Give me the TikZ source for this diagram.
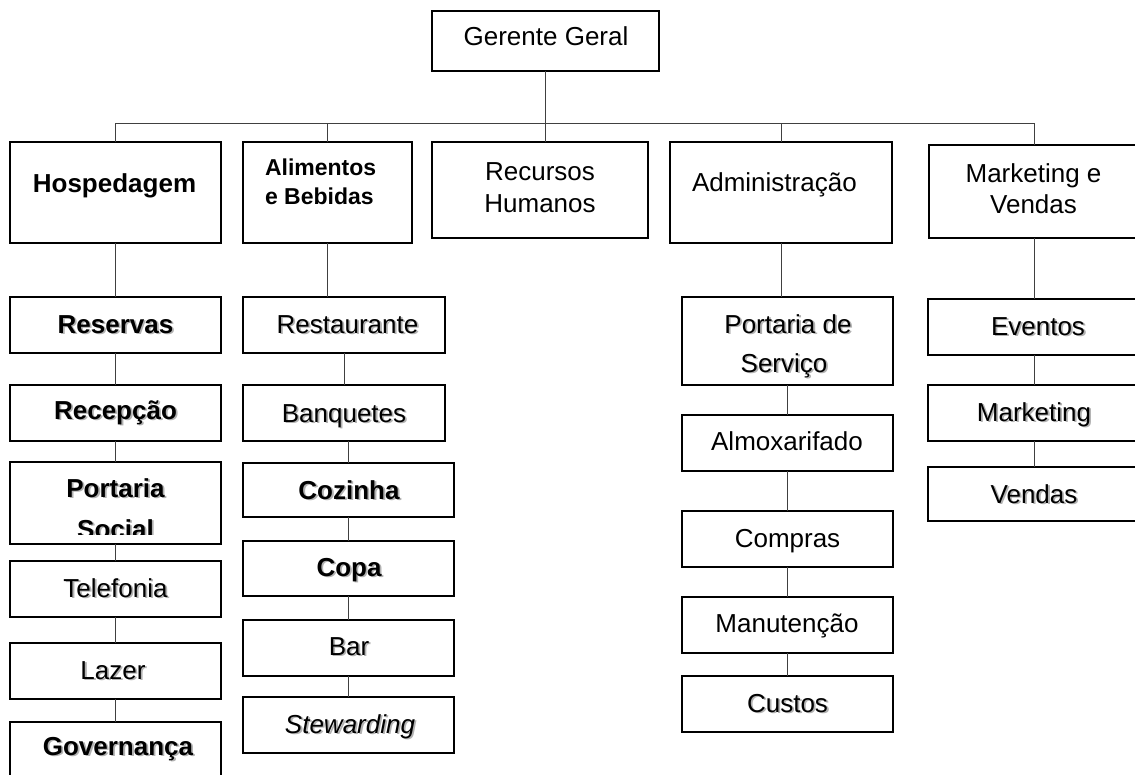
\documentclass[tikz,border=0pt]{standalone}
\usepackage{fontspec}
\setmainfont{Liberation Sans}
\newcommand\shd[1]{\leavevmode\rlap{\kern1.8pt\raisebox{-1.8pt}{\textcolor{black!30}{#1}}}#1}
\tikzset{
  box/.style={draw=black, line width=2pt, fill=white, inner sep=0pt, outer sep=0pt},
  lnk/.style={draw=black!75, line width=1pt},
  txt/.style={anchor=base, inner sep=0pt, outer sep=0pt, font=\fontsize{26}{30}\selectfont},
  btxt/.style={anchor=base, inner sep=0pt, outer sep=0pt, font=\fontsize{26}{30}\selectfont\bfseries},
  stxt/.style={anchor=base west, inner sep=0pt, outer sep=0pt, font=\fontsize{23}{27}\selectfont\bfseries},
  itxt/.style={anchor=base, inner sep=0pt, outer sep=0pt, font=\fontsize{26}{30}\selectfont\itshape},
}
\begin{document}
\begin{tikzpicture}[x=1pt,y=-1pt]
\useasboundingbox (0,0) rectangle (1135,774);
\clip (0,0) rectangle (1135,774);

% ---- boxes ----
\node[box, minimum width=227pt, minimum height=60pt] (gg) at (545.5,41) {};

\node[box, minimum width=211pt, minimum height=101pt] (hosp) at (115.5,192.5) {};
\node[box, minimum width=169pt, minimum height=101pt] (alim) at (327.5,192.5) {};
\node[box, minimum width=216pt, minimum height=96pt] (rh) at (540,190) {};
\node[box, minimum width=222pt, minimum height=101pt] (adm) at (781,192.5) {};
\node[box, minimum width=210pt, minimum height=93pt] (mkv) at (1034,191.5) {};

% Hospedagem column
\node[box, minimum width=211pt, minimum height=56pt] (res) at (115.5,325) {};
\node[box, minimum width=211pt, minimum height=56pt] (rec) at (115.5,413) {};
\node[box, minimum width=211pt, minimum height=82pt] (port) at (115.5,503) {};
\node[box, minimum width=211pt, minimum height=56pt] (tel) at (115.5,589) {};
\node[box, minimum width=211pt, minimum height=56pt] (laz) at (115.5,671) {};
\node[box, minimum width=211pt, minimum height=78pt] (gov) at (115.5,761) {};

% Alimentos column
\node[box, minimum width=202pt, minimum height=56pt] (rest) at (344,325) {};
\node[box, minimum width=202pt, minimum height=56pt] (banq) at (344,413) {};
\node[box, minimum width=211pt, minimum height=54pt] (coz) at (348.5,490) {};
\node[box, minimum width=211pt, minimum height=55pt] (copa) at (348.5,568.5) {};
\node[box, minimum width=211pt, minimum height=56pt] (bar) at (348.5,648) {};
\node[box, minimum width=211pt, minimum height=56pt] (stew) at (348.5,725) {};

% Administracao column
\node[box, minimum width=211pt, minimum height=88pt] (psv) at (787.5,341) {};
\node[box, minimum width=211pt, minimum height=56pt] (alm) at (787.5,443) {};
\node[box, minimum width=211pt, minimum height=56pt] (comp) at (787.5,539) {};
\node[box, minimum width=211pt, minimum height=56pt] (manu) at (787.5,625) {};
\node[box, minimum width=211pt, minimum height=56pt] (cust) at (787.5,704) {};

% Marketing column
\node[box, minimum width=212pt, minimum height=56pt] (ev) at (1034,327) {};
\node[box, minimum width=212pt, minimum height=56pt] (mk) at (1034,413) {};
\node[box, minimum width=212pt, minimum height=54pt] (ve) at (1034,494) {};

% ---- connectors ----
\coordinate (bus) at (546,123);
\draw[lnk] (gg.south) -- (gg.south |- rh.north);
\draw[lnk] (hosp.north) -- (hosp.north |- bus) -- (mkv.north |- bus) -- (mkv.north);
\draw[lnk] (alim.north) -- (alim.north |- bus);
\draw[lnk] (adm.north) -- (adm.north |- bus);

\draw[lnk] (hosp.south) -- (res.north);
\draw[lnk] (res.south) -- (rec.north);
\draw[lnk] (rec.south) -- (port.north);
\draw[lnk] (port.south) -- (tel.north);
\draw[lnk] (tel.south) -- (laz.north);
\draw[lnk] (laz.south) -- (gov.north);

\draw[lnk] (alim.south) -- (alim.south |- rest.north);
\draw[lnk] (rest.south) -- (banq.north);
\draw[lnk] (coz.north |- banq.south) -- (coz.north);
\draw[lnk] (coz.south) -- (copa.north);
\draw[lnk] (copa.south) -- (bar.north);
\draw[lnk] (bar.south) -- (stew.north);

\draw[lnk] (adm.south) -- (adm.south |- psv.north);
\draw[lnk] (psv.south) -- (alm.north);
\draw[lnk] (alm.south) -- (comp.north);
\draw[lnk] (comp.south) -- (manu.north);
\draw[lnk] (manu.south) -- (cust.north);

\draw[lnk] (mkv.south) -- (ev.north);
\draw[lnk] (ev.south) -- (mk.north);
\draw[lnk] (mk.south) -- (ve.north);

% ---- texts ----
\node[txt] (t-gg) at (546,45) {Gerente Geral};
\node[btxt] (t-hosp) at (114.5,192) {Hospedagem};
\node[stxt] (t-alim1) at (265,175) {Alimentos};
\node[stxt] (t-alim2) at (265,204) {e Bebidas};
\node[txt] (t-rh1) at (540,180) {Recursos};
\node[txt] (t-rh2) at (540,212) {Humanos};
\node[txt, anchor=base west] (t-adm) at (692,191) {Administração};
\node[txt] (t-mkv1) at (1033.5,182) {Marketing e};
\node[txt] (t-mkv2) at (1033.5,213) {Vendas};

\node[btxt] (t-res) at (115.5,333) {\shd{Reservas}};
\node[btxt] (t-rec) at (115.5,419) {\shd{Recepção}};
\node[btxt] (t-port1) at (115.5,497) {\shd{Portaria}};
\begin{scope}
\clip (0,450) rectangle (240,534);
\node[btxt] (t-port2) at (115.5,538) {\shd{Social}};
\end{scope}
\node[txt] (t-tel) at (115.5,597) {\shd{Telefonia}};
\node[txt] (t-laz) at (113,679) {\shd{Lazer}};
\node[btxt] (t-gov) at (118,755) {\shd{Governança}};

\node[txt] (t-rest) at (347.5,333) {\shd{Restaurante}};
\node[txt] (t-banq) at (344,422) {\shd{Banquetes}};
\node[btxt] (t-coz) at (349,499) {\shd{Cozinha}};
\node[btxt] (t-copa) at (349,576) {\shd{Copa}};
\node[txt] (t-bar) at (349,655) {\shd{Bar}};
\node[itxt] (t-stew) at (350,733) {\shd{Stewarding}};

\node[txt] (t-psv1) at (788,333) {\shd{Portaria de}};
\node[txt] (t-psv2) at (784,372) {\shd{Serviço}};
\node[txt] (t-alm) at (787,450) {Almoxarifado};
\node[txt] (t-comp) at (787.5,547) {Compras};
\node[txt] (t-manu) at (787,632) {Manutenção};
\node[txt] (t-cust) at (787.5,712) {\shd{Custos}};

\node[txt] (t-ev) at (1038,335) {\shd{Eventos}};
\node[txt] (t-mk) at (1034,421) {\shd{Marketing}};
\node[txt] (t-ve) at (1034,503) {\shd{Vendas}};
\end{tikzpicture}
\end{document}
